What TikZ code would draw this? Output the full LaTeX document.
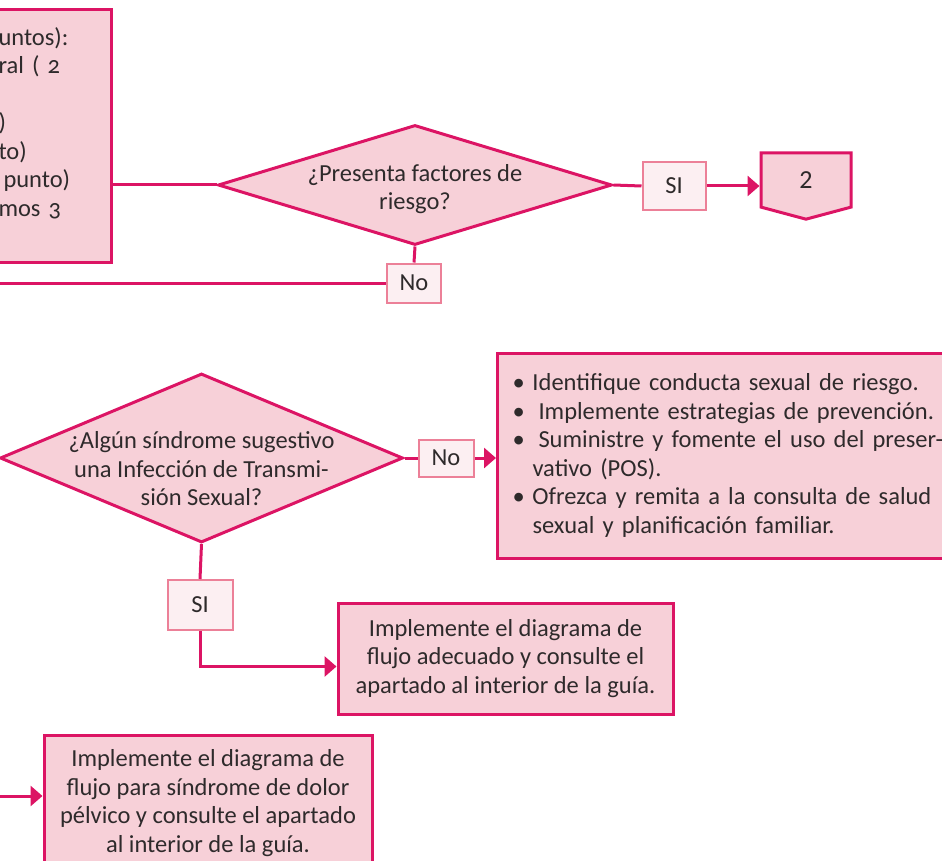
\documentclass[tikz,border=0pt]{standalone}
\usepackage{fontspec}
\setmainfont[Numbers=OldStyle]{Carlito}
\usetikzlibrary{arrows.meta,shapes.geometric,shapes.symbols}
\definecolor{linea}{HTML}{DC1464}
\definecolor{relleno}{HTML}{F7D0D8}
\definecolor{etiq}{HTML}{FCEFF2}
\definecolor{etiqborde}{HTML}{EC8098}
\definecolor{texto}{HTML}{2E2A2B}
\begin{document}
\begin{tikzpicture}[x=1pt,y=-1pt,
    font=\fontsize{24.5}{28.5}\selectfont,text=texto,
    caja/.style={rectangle,draw=linea,line width=3pt,fill=relleno,align=center,inner sep=6pt},
    rombo/.style={diamond,draw=linea,line width=3pt,fill=relleno,inner sep=0pt},
    etiqueta/.style={rectangle,draw=etiqborde,line width=2pt,fill=etiq,inner sep=0pt},
    flecha/.style={-{Triangle[length=12pt,width=20pt]}}]
  \useasboundingbox (0,0) rectangle (942,861);
  \clip (0,0) rectangle (942,861);
  \draw
    (113,136) node[caja,anchor=east,minimum height=252,text width=107,align=left] (0)
      {untos):\\ral ( 2\\\mbox{}\\)\\to)\\\hspace*{5pt}punto)\\mos 3\\\mbox{}}
    (415,185) node[rombo,minimum width=394,minimum height=120,
      label={[align=center,yshift=-4pt]center:{¿Presenta factores de\\riesgo?}}] (1) {}
    (414,283) node[etiqueta,minimum width=54,minimum height=39] (2) {No}
    (674,186) node[etiqueta,minimum width=63,minimum height=48] (3) {SI}
    (806,180) node[signal,signal to=south,signal pointer angle=150,draw=linea,
      line width=3pt,fill=relleno,minimum width=90,minimum height=56,inner sep=0pt,
      font=\fontsize{26}{28.5}\selectfont\addfontfeature{Numbers=Lining}] (4) {2}
    (201.5,458) node[rombo,minimum width=403,minimum height=169,
      label={[align=center,yshift=-11pt]center:{¿Algún síndrome sugestivo\\una Infección de Transmi-\\sión Sexual?}}] (5) {}
    (446,458) node[etiqueta,minimum width=55,minimum height=37] (6) {No}
    (496,455.5) node[caja,anchor=west,minimum height=205,text width=470,inner xsep=15pt,align=left] (7)
      {\makebox[20pt][l]{•}Identifique conducta sexual de riesgo.\\
       \makebox[26pt][l]{•}Implemente estrategias de prevención.\\
       \makebox[26pt][l]{•}Suministre y fomente el uso del preser-\\
       \hspace*{20pt}vativo (POS).\\
       \makebox[20pt][l]{•}Ofrezca y remita a la consulta de salud\\
       \hspace*{20pt}sexual y planificación familiar.}
    (200,605) node[etiqueta,minimum width=65,minimum height=50] (8) {SI}
    (505.5,658.5) node[caja,minimum width=335,minimum height=111] (9)
      {Implemente el diagrama de\\flujo adecuado y consulte el\\apartado al interior de la guía.}
    (208,803) node[caja,minimum width=328,minimum height=136] (10)
      {Implemente el diagrama de\\flujo para síndrome de dolor\\pélvico y consulte el apartado\\al interior de la guía.};
  \coordinate (c1) at (0,283);
  \coordinate (c2) at (0,796);
  \begin{scope}[draw=linea,line width=3pt]
    \draw (0.east |- 1.west) -- (1.west);
    \draw (1.south) -- (2.north);
    \draw (2.west) -- (c1);
    \draw (1.east) -- (3.west);
    \draw[flecha] (3.east) -- (3.east -| 4.west);
    \draw (5.east) -- (6.west);
    \draw[flecha] (6.east) -- (6.east -| 7.west);
    \draw (5.south) -- (8.north);
    \draw[flecha] (8.south) |- ([yshift=-8pt]9.west);
    \draw[flecha] (c2) -- (c2 -| 10.west);
  \end{scope}
\end{tikzpicture}
\end{document}
